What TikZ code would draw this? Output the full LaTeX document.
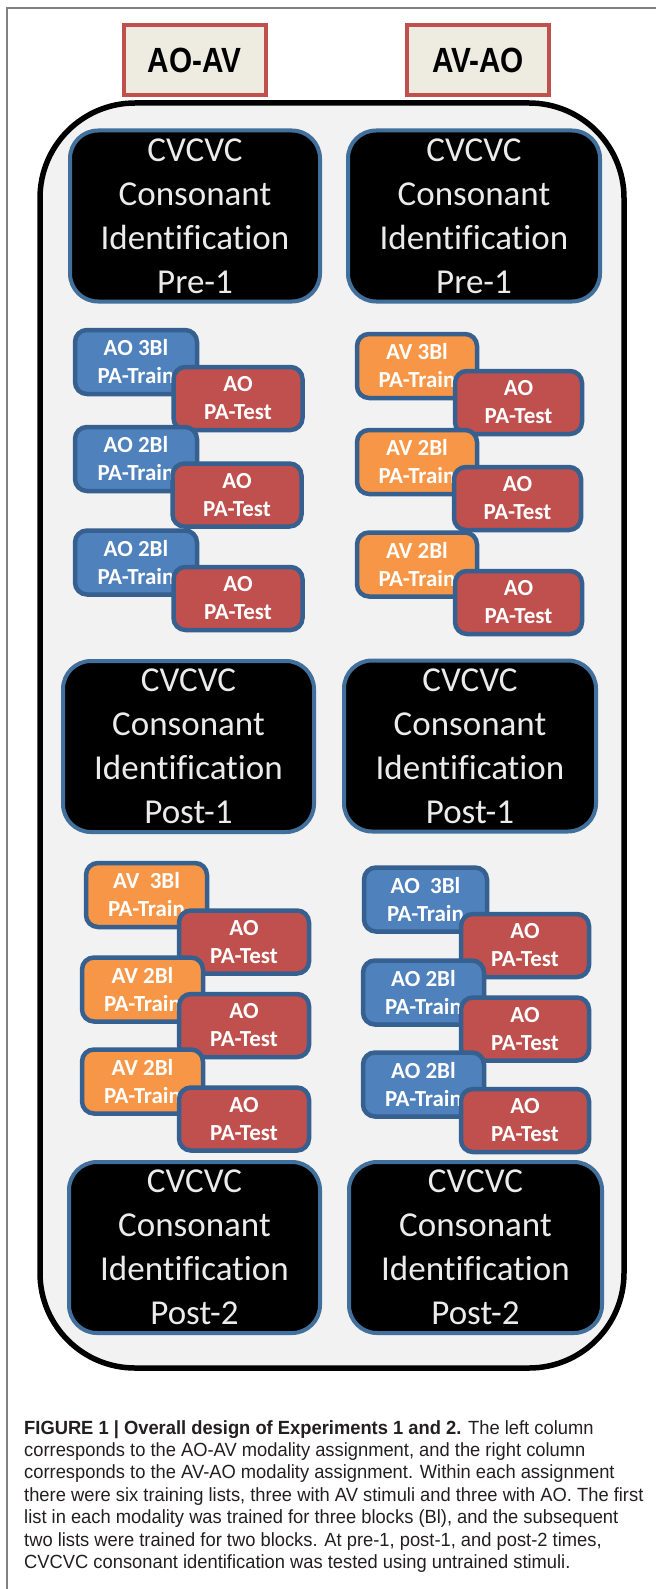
\documentclass[tikz,border=0pt]{standalone}
\usepackage{fontspec}
\setmainfont{Liberation Sans}
\newfontfamily\calfont[Ligatures=CommonOff]{Carlito}
\definecolor{obl}{HTML}{4F81BD}
\definecolor{oor}{HTML}{F79646}
\definecolor{ored}{HTML}{C0504D}
\definecolor{outl}{HTML}{36608F}
\definecolor{cvcb}{HTML}{41709C}
\definecolor{hbg}{HTML}{EEECE1}
\definecolor{hred}{HTML}{C0504D}
\definecolor{bgc}{HTML}{F2F2F2}
\definecolor{capc}{HTML}{231F20}
\newcommand\capln[1]{\scalebox{0.96}[1]{#1}}
\tikzset{
  bigbox/.style={draw=black, line width=5.5pt, fill=bgc, rounded corners=95pt, inner sep=0pt},
  hdr/.style={draw=hred, fill=hbg, line width=4pt, inner sep=0pt, minimum width=142pt, minimum height=70pt, font=\fontsize{35}{40}\selectfont\bfseries},
  cvc/.style={draw=cvcb, fill=black, line width=4pt, rounded corners=28pt, text=white!92!black, align=center, inner sep=0pt, minimum height=171pt, font=\calfont\fontsize{35}{44}\selectfont},
  train/.style={draw=outl, line width=4.5pt, rounded corners=12pt, minimum width=122pt, minimum height=64pt, text=white, align=center, inner sep=0pt, font=\calfont\bfseries\fontsize{23}{28}\selectfont},
  btrain/.style={train, fill=obl},
  otrain/.style={train, fill=oor},
  test/.style={train, fill=ored, minimum width=129pt, minimum height=63pt},
  capline/.style={anchor=base west, inner sep=0pt, text=capc, font=\fontsize{19.1}{22}\selectfont}
}
\begin{document}
\begin{tikzpicture}[x=1pt, y=-1pt]
\useasboundingbox (0,0) rectangle (656,1589);
% page frame
\draw[gray, line width=2pt] (7,1589) -- (7,8) -- (656,8);
% headers
\node[hdr] (hAOAV) at (194.5,60) {\scalebox{0.85}[1]{AO-AV}};
\node[hdr] (hAVAO) at (478,60) {\scalebox{0.85}[1]{AV-AO}};
% container
\node[bigbox, minimum width=584pt, minimum height=1265pt] (frame) at (332,735.5) {};
% CVCVC blocks
\node[cvc, minimum width=250pt] (pre1L) at (195,216) {CVCVC\\Consonant\\Identification\\Pre-1};
\node[cvc, minimum width=252pt] (pre1R) at (474,216) {CVCVC\\Consonant\\Identification\\Pre-1};
\node[cvc, minimum width=251pt] (post1L) at (188.5,746.5) {CVCVC\\Consonant\\Identification\\Post-1};
\node[cvc, minimum width=252pt] (post1R) at (470,746) {CVCVC\\Consonant\\Identification\\Post-1};
\node[cvc, minimum width=251pt] (post2L) at (194.5,1247.5) {CVCVC\\Consonant\\Identification\\Post-2};
\node[cvc, minimum width=253pt] (post2R) at (475.5,1247.5) {CVCVC\\Consonant\\Identification\\Post-2};
% group 1 left (AO training)
\node[btrain] (t1L) at (136,362) {AO 3Bl\\PA-Train};
\node[test] (s1L) at (238,398.5) {AO\\PA-Test};
\node[btrain] (t2L) at (136,459) {AO 2Bl\\PA-Train};
\node[test] (s2L) at (237,495) {AO\\PA-Test};
\node[btrain] (t3L) at (136,562.5) {AO 2Bl\\PA-Train};
\node[test] (s3L) at (238,598.5) {AO\\PA-Test};
% group 1 right (AV training)
\node[otrain, minimum width=120pt] (t1R) at (417,366) {AV 3Bl\\PA-Train};
\node[test, minimum width=127pt] (s1R) at (518.5,402.5) {AO\\PA-Test};
\node[otrain, minimum width=120pt] (t2R) at (417,462) {AV 2Bl\\PA-Train};
\node[test, minimum width=127pt] (s2R) at (517.5,498.5) {AO\\PA-Test};
\node[otrain, minimum width=120pt] (t3R) at (417,564.5) {AV 2Bl\\PA-Train};
\node[test, minimum width=127pt] (s3R) at (518.5,602.5) {AO\\PA-Test};
% group 2 left (AV training)
\node[otrain, minimum width=121pt] (t4L) at (146.5,895) {AV\ \ 3Bl\\PA-Train};
\node[test, minimum width=130pt] (s4L) at (244,942) {AO\\PA-Test};
\node[otrain, minimum width=121pt] (t5L) at (142.5,989.5) {AV 2Bl\\PA-Train};
\node[test, minimum width=130pt] (s5L) at (244,1025.5) {AO\\PA-Test};
\node[otrain, minimum width=121pt] (t6L) at (142.5,1081.5) {AV 2Bl\\PA-Train};
\node[test, minimum width=130pt] (s6L) at (244,1119) {AO\\PA-Test};
% group 2 right (AO training)
\node[btrain, minimum width=123pt] (t4R) at (425.5,899.5) {AO\ \ 3Bl\\PA-Train};
\node[test, minimum width=128pt] (s4R) at (525,945.5) {AO\\PA-Test};
\node[btrain, minimum width=121pt] (t5R) at (423.5,992.5) {AO 2Bl\\PA-Train};
\node[test, minimum width=128pt] (s5R) at (525,1029) {AO\\PA-Test};
\node[btrain, minimum width=121pt] (t6R) at (423.5,1084.5) {AO 2Bl\\PA-Train};
\node[test, minimum width=128pt] (s6R) at (525,1120.5) {AO\\PA-Test};
% caption
\node[capline] (c1) at (24,1434) {\capln{\textbf{FIGURE 1 | Overall design of Experiments 1 and 2.} The left column}};
\node[capline] (c2) at (24,1456.4) {\capln{corresponds to the AO-AV modality assignment, and the right column}};
\node[capline] (c3) at (24,1478.8) {\capln{corresponds to the AV-AO modality assignment. Within each assignment}};
\node[capline] (c4) at (24,1501.2) {\capln{there were six training lists, three with AV stimuli and three with AO. The first}};
\node[capline] (c5) at (24,1523.6) {\capln{list in each modality was trained for three blocks (Bl), and the subsequent}};
\node[capline] (c6) at (24,1546) {\capln{two lists were trained for two blocks. At pre-1, post-1, and post-2 times,}};
\node[capline] (c7) at (24,1568.4) {\capln{CVCVC consonant identification was tested using untrained stimuli.}};
\end{tikzpicture}
\end{document}
